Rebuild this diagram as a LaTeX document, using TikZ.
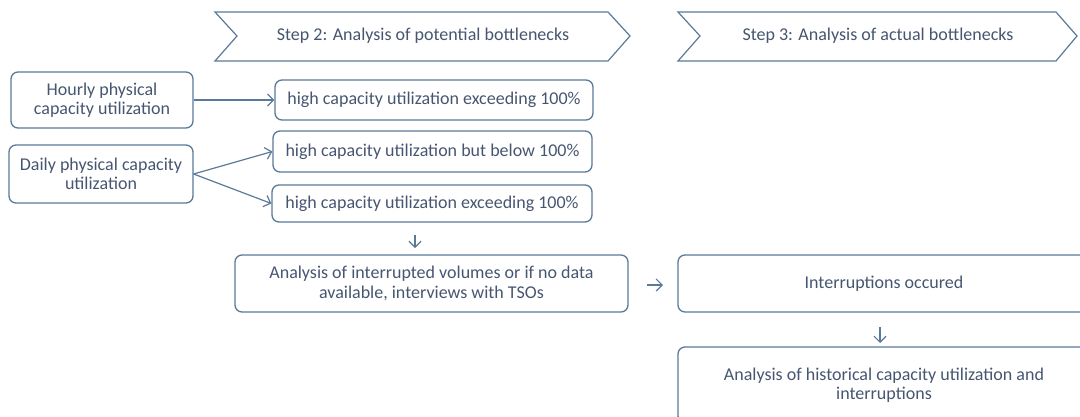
\documentclass[tikz,border=0pt]{standalone}
\usepackage{fontspec}
\setmainfont{Carlito}
\usetikzlibrary{arrows.meta}
\definecolor{bord}{HTML}{5B7A99}
\definecolor{txt}{HTML}{465670}
\begin{document}
\begin{tikzpicture}[x=1pt,y=-1pt,
 box/.style={draw=bord, line width=1.3pt, rounded corners=7pt, text=txt, font=\fontsize{18}{19.5}\selectfont, align=center, inner sep=0pt},
 arr/.style={draw=bord, line width=1.2pt, -{Straight Barb[length=6pt,width=12pt]}},
 chev/.style={draw=bord, line width=1.2pt, fill=white},
 lbl/.style={text=txt, font=\fontsize{18}{19.5}\selectfont, inner sep=0pt}]
\useasboundingbox (0,0) rectangle (1080,416);
\clip (0,0) rectangle (1080,416);
% chevrons
\draw[chev] (215,12) -- (608,12) -- (630,36) -- (608,61) -- (215,61) -- (237,36) -- cycle;
\node[lbl] (step2) at (423,36) {Step 2: Analysis of potential bottlenecks};
\draw[chev] (678,12) -- (1056,12) -- (1077,36) -- (1056,61) -- (678,61) -- (700,36) -- cycle;
\node[lbl] (step3) at (878,36) {Step 3: Analysis of actual bottlenecks};
% left boxes
\node[box, minimum width=182pt, minimum height=56pt] (hour) at (102,100) {Hourly physical\\capacity utilization};
\node[box, minimum width=184pt, minimum height=58pt] (day) at (101,174) {Daily physical capacity\\utilization};
% middle boxes
\node[box, minimum width=318pt, minimum height=40pt] (h1) at (434,100) {high capacity utilization exceeding 100\%};
\node[box, minimum width=319pt, minimum height=41pt] (h2) at (432.5,151.5) {high capacity utilization but below 100\%};
\node[box, minimum width=320pt, minimum height=37pt] (h3) at (432,203.5) {high capacity utilization exceeding 100\%};
\node[box, minimum width=393pt, minimum height=57pt] (ana) at (431.5,283.5) {Analysis of interrupted volumes or if no data\\available, interviews with TSOs};
% right boxes
\node[box, minimum width=412pt, minimum height=57pt] (intr) at (884,283.5) {Interruptions occured};
\node[box, minimum width=412pt, minimum height=76pt] (hist) at (884,385) {Analysis of historical capacity utilization and\\interruptions};
% connectors
\draw[arr] (hour.east) -- (h1.west);
\draw[arr] (day.east) -- (h2.west);
\draw[arr] (day.east) -- (h3.west);
\coordinate (d1s) at (415,235);
\coordinate (d1e) at (415,248);
\draw[arr] (d1s) -- (d1e);
\coordinate (r1s) at (647,285);
\coordinate (r1e) at (663,285);
\draw[arr] (r1s) -- (r1e);
\coordinate (d2s) at (880,327);
\coordinate (d2e) at (880,343);
\draw[arr] (d2s) -- (d2e);
\end{tikzpicture}
\end{document}
